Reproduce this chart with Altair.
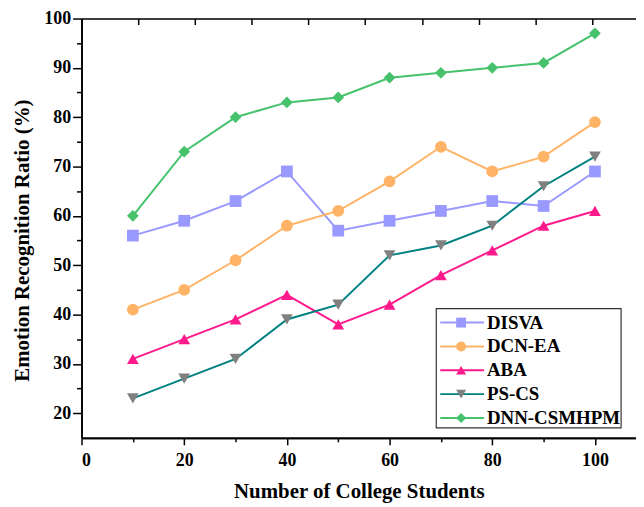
import altair as alt
import pandas as pd

x_vals = [10, 20, 30, 40, 50, 60, 70, 80, 90, 100]
series_names = ["DISVA", "DCN-EA", "ABA", "PS-CS", "DNN-CSMHPM"]
disva = [56, 59, 63, 69, 57, 59, 61, 63, 62, 69]
dcn_ea = [41, 45, 51, 58, 61, 67, 74, 69, 72, 79]
aba = [31, 35, 39, 44, 38, 42, 48, 53, 58, 61]
ps_cs = [23, 27, 31, 39, 42, 52, 54, 58, 66, 72]
dnn = [60, 73, 80, 83, 84, 88, 89, 90, 91, 97]

line_colors = ["#9999FF", "#FFB366", "#FF1A8C", "#008080", "#45C26B"]
marker_colors = ["#9999FF", "#FFB366", "#FF1A8C", "#808080", "#45C26B"]
shapes = ["square", "circle", "triangle-up", "triangle-down", "diamond"]

x_major = [0, 20, 40, 60, 80, 100]
x_minor = [10, 30, 50, 70, 90]
y_major = [20, 30, 40, 50, 60, 70, 80, 90, 100]
y_minor = [25, 35, 45, 55, 65, 75, 85, 95]
top_ticks = [i * 11.05 for i in range(10)]

all_vals = [disva, dcn_ea, aba, ps_cs, dnn]
rows = []
for name, vals in zip(series_names, all_vals):
    for xv, yv in zip(x_vals, vals):
        rows.append({"x": xv, "y": yv, "series": name})
df = pd.DataFrame(rows)

W, H = 558, 422
FONT = "Liberation Serif"
xs = alt.Scale(domain=[0, 108], nice=False, zero=False)
ys = alt.Scale(domain=[15, 100], nice=False, zero=False)

line_color = alt.Color("series:N", scale=alt.Scale(domain=series_names, range=line_colors), legend=None)
mark_color = alt.Color("series:N", scale=alt.Scale(domain=series_names, range=marker_colors), legend=None)
shape_enc = alt.Shape("series:N", scale=alt.Scale(domain=series_names, range=shapes), legend=None)

ax_common = dict(labelFont=FONT, labelFontWeight="bold", labelFontSize=18, labelColor="black",
                 titleFont=FONT, titleFontWeight="bold", titleFontSize=21, titleColor="black",
                 domainColor="black", tickColor="black", domainWidth=1.6, tickWidth=1.5, grid=False)

lines = alt.Chart(df).mark_line(strokeWidth=2).encode(
    x=alt.X("x:Q", scale=xs, axis=alt.Axis(orient="bottom", values=x_major, tickSize=7, labelPadding=7,
                                            title="Number of College Students", titlePadding=11, **ax_common)),
    y=alt.Y("y:Q", scale=ys, axis=alt.Axis(orient="left", values=y_major, tickSize=9, labelPadding=2,
                                            title="Emotion Recognition Ratio (%)", titlePadding=11,
                                            titleY=223, **ax_common)),
    color=line_color,
    detail="series:N",
)

points = alt.Chart(df).mark_point(filled=True, opacity=1, size=140).encode(
    x=alt.X("x:Q", scale=xs, axis=alt.Axis(orient="bottom", values=x_minor, tickSize=4, labels=False,
                                            title=None, **ax_common)),
    y=alt.Y("y:Q", scale=ys, axis=alt.Axis(orient="left", values=y_minor, tickSize=5, labels=False,
                                            title=None, **ax_common)),
    color=mark_color,
    shape=shape_enc,
)

top = alt.Chart(df).mark_point(opacity=0).encode(
    x=alt.X("x:Q", scale=xs, axis=alt.Axis(orient="bottom", offset=-H, values=top_ticks, tickSize=6,
                                            labels=False, title=None, **ax_common)),
    y=alt.Y("y:Q", scale=ys, axis=None),
)

# legend (pixel positions inside plot area)
leg = pd.DataFrame({"series": series_names, "i": list(range(5))})
leg_box = alt.Chart(pd.DataFrame({"a": [0]})).mark_rect(fill="white", stroke="#333333", strokeWidth=1.2).encode(
    x=alt.value(357), x2=alt.value(543), y=alt.value(292), y2=alt.value(412))
leg_base = alt.Chart(leg).transform_calculate(py="306 + 24*datum.i")
leg_lines = leg_base.mark_rule(strokeWidth=2).encode(
    x=alt.value(361), x2=alt.value(405), y=alt.Y("py:Q", scale=None),
    color=line_color)
leg_pts = leg_base.mark_point(filled=True, opacity=1, size=100).encode(
    x=alt.value(382), y=alt.Y("py:Q", scale=None), color=mark_color, shape=shape_enc)
leg_text = leg_base.mark_text(align="left", baseline="middle", font=FONT, fontWeight="bold",
                              fontSize=19, color="black").encode(
    x=alt.value(408), y=alt.Y("py:Q", scale=None), text="series:N")

chart = alt.layer(lines, points, top, leg_box, leg_lines, leg_pts, leg_text).resolve_scale(
    x="independent", y="independent", color="independent", shape="independent"
).resolve_axis(x="independent", y="independent").properties(
    width=W, height=H,
    autosize=alt.AutoSizeParams(type="none"),
    padding={"left": 74, "top": 9, "right": 0, "bottom": 68},
).configure_view(stroke=None).configure(background="white")

chart.save("out.html", embed_options={"renderer": "svg", "actions": False})
